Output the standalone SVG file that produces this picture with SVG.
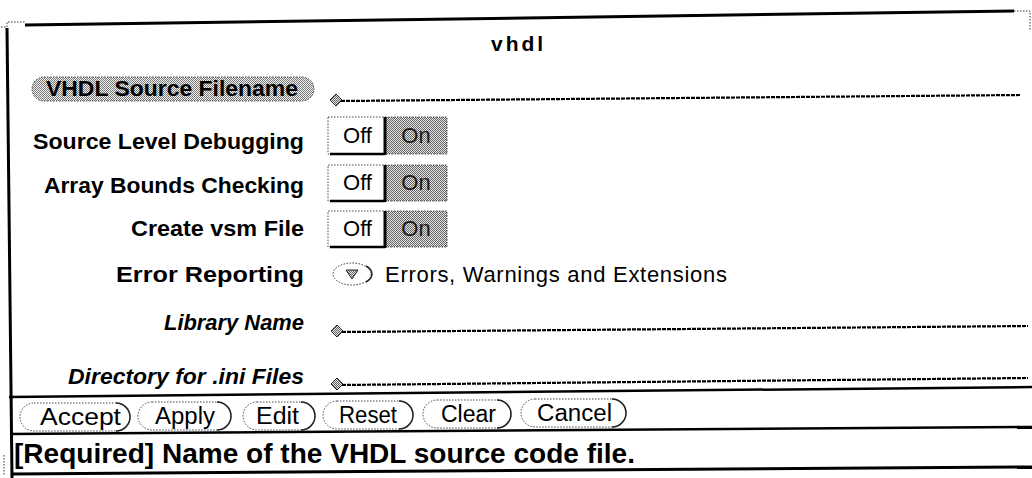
<svg xmlns="http://www.w3.org/2000/svg" width="1032" height="478" viewBox="0 0 1032 478">
<defs>
<pattern id="dither" width="2" height="2" patternUnits="userSpaceOnUse"><rect width="2" height="2" fill="#f2f2f2"/><rect width="1" height="1" fill="#7a7a7a"/><rect x="1" y="1" width="1" height="1" fill="#7a7a7a"/></pattern>
<pattern id="dither2" width="2" height="2" patternUnits="userSpaceOnUse"><rect width="2" height="2" fill="#e4e4e4"/><rect width="1" height="1" fill="#666"/><rect x="1" y="1" width="1" height="1" fill="#666"/></pattern>
<style>
.lbl{font-family:"Liberation Sans",Arial,sans-serif;font-weight:bold;font-size:22px;fill:#000;text-anchor:end}
.it{font-style:italic}
.reg{font-family:"Liberation Sans",Arial,sans-serif;font-size:22px;fill:#000}
.dot{fill:none;stroke:#333;stroke-width:1;stroke-dasharray:1.5 1.5}
.field{fill:none;stroke:#000;stroke-width:2.2;stroke-dasharray:4 1}
.diam{fill:url(#dither2);stroke:#222;stroke-width:1}
.frame{stroke:#000;stroke-width:3;fill:none}
.sep{stroke:#000;stroke-width:2.5;fill:none}
.btn{fill:#fff;stroke:#444;stroke-width:1;stroke-dasharray:1.5 1.5}
.btnsh{fill:none;stroke:#222;stroke-width:1.5}
.btxt{font-family:"Liberation Sans",Arial,sans-serif;font-size:23px;fill:#000}
.off{fill:#fff;stroke:#444;stroke-width:1;stroke-dasharray:1.5 1.5}
.on{fill:url(#dither2);stroke:#444;stroke-width:1;stroke-dasharray:1.5 1.5}
.solid{stroke:#000;stroke-width:2.5;fill:none}
.ontxt{fill:#1a1a1a}
</style>
</defs>
<rect width="1032" height="478" fill="#fff"/>
<g id="frame">
  <line class="frame" x1="25" y1="25" x2="1014" y2="11"/>
  <line class="frame" x1="7" y1="28" x2="12" y2="478"/>
  <path class="dot" d="M1,27 H7 V22 H25"/>
  <path class="dot" d="M1014,11 H1030 V30"/>
  <path class="dot" d="M4,455 V476"/>
  <line class="sep" x1="9" y1="397" x2="1032" y2="387"/>
  <line class="sep" x1="10" y1="434" x2="1032" y2="427"/>
  <line class="frame" x1="12" y1="474" x2="1032" y2="467"/>
</g>
<g id="title">
  <text x="491" y="51" font-family="'Liberation Sans',Arial,sans-serif" font-weight="bold" font-size="21" textLength="52">vhdl</text>
</g>
<g id="row-source">
  <rect x="32" y="77" width="282" height="24" rx="12" fill="url(#dither)" stroke="#444" stroke-width="1" stroke-dasharray="1.5 1.5"/>
  <text x="46" y="96" font-family="'Liberation Sans',Arial,sans-serif" font-weight="bold" font-size="22" textLength="252" lengthAdjust="spacingAndGlyphs">VHDL Source Filename</text>
  <polygon class="diam" points="330,100 336,94 342,100 336,106"/>
  <line class="field" x1="341" y1="101" x2="1021" y2="95"/>
</g>
<g id="row-debug">
  <text class="lbl" x="304" y="149" textLength="271" lengthAdjust="spacingAndGlyphs">Source Level Debugging</text>
  <rect class="off" x="328" y="117" width="57" height="37"/>
  <rect class="on" x="385" y="117" width="62" height="37"/>
  <line class="solid" x1="330" y1="154" x2="385" y2="154"/>
  <line class="solid" x1="385" y1="117" x2="385" y2="155" style="stroke-width:3"/>
  <text class="reg" x="357.5" y="143" text-anchor="middle">Off</text>
  <text class="reg ontxt" x="416" y="143" text-anchor="middle">On</text>
</g>
<g id="row-bounds">
  <text class="lbl" x="304" y="193" textLength="260" lengthAdjust="spacingAndGlyphs">Array Bounds Checking</text>
  <rect class="off" x="328" y="165" width="57" height="36"/>
  <rect class="on" x="385" y="165" width="62" height="36"/>
  <line class="solid" x1="330" y1="201" x2="385" y2="201"/>
  <line class="solid" x1="385" y1="165" x2="385" y2="202" style="stroke-width:3"/>
  <text class="reg" x="357.5" y="190" text-anchor="middle">Off</text>
  <text class="reg ontxt" x="416" y="190" text-anchor="middle">On</text>
</g>
<g id="row-vsm">
  <text class="lbl" x="304" y="236" textLength="173" lengthAdjust="spacingAndGlyphs">Create vsm File</text>
  <rect class="off" x="328" y="211" width="57" height="36"/>
  <rect class="on" x="385" y="211" width="62" height="36"/>
  <line class="solid" x1="330" y1="247" x2="385" y2="247"/>
  <line class="solid" x1="385" y1="211" x2="385" y2="248" style="stroke-width:3"/>
  <text class="reg" x="357.5" y="236" text-anchor="middle">Off</text>
  <text class="reg ontxt" x="416" y="236" text-anchor="middle">On</text>
</g>
<g id="row-error">
  <text class="lbl" x="304" y="282" textLength="188" lengthAdjust="spacingAndGlyphs">Error Reporting</text>
  <ellipse cx="352" cy="274" rx="19" ry="11" class="dot"/>
  <path d="M366,266 A19,11 0 0 1 366,282" class="btnsh"/>
  <polygon points="346,270 358,270 352,279" fill="url(#dither2)" stroke="#222" stroke-width="1"/>
  <text class="reg" x="385" y="282" font-size="23" textLength="342">Errors, Warnings and Extensions</text>
</g>
<g id="row-library">
  <text class="lbl it" x="304" y="330" textLength="140" lengthAdjust="spacingAndGlyphs">Library Name</text>
  <polygon class="diam" points="331,331 337,325 343,331 337,337"/>
  <line class="field" x1="342" y1="332" x2="1028" y2="326"/>
</g>
<g id="row-dir">
  <text class="lbl it" x="304" y="384" textLength="236" lengthAdjust="spacingAndGlyphs">Directory for .ini Files</text>
  <polygon class="diam" points="331,384 337,378 343,384 337,390"/>
  <line class="field" x1="342" y1="385" x2="1028" y2="378"/>
</g>
<g id="btn-accept">
  <rect class="btn" x="20" y="403" width="110" height="28" rx="14"/>
  <path class="btnsh" d="M116,431 A14,14 0 0 0 116,403"/>
  <text class="btxt" x="40" y="425" textLength="81" lengthAdjust="spacingAndGlyphs">Accept</text>
</g>
<g id="btn-apply">
  <rect class="btn" x="138" y="402" width="93" height="28" rx="14"/>
  <path class="btnsh" d="M217,430 A14,14 0 0 0 217,402"/>
  <text class="btxt" x="155" y="424" textLength="60" lengthAdjust="spacingAndGlyphs">Apply</text>
</g>
<g id="btn-edit">
  <rect class="btn" x="243" y="402" width="72" height="28" rx="14"/>
  <path class="btnsh" d="M301,430 A14,14 0 0 0 301,402"/>
  <text class="btxt" x="256" y="424" textLength="43" lengthAdjust="spacingAndGlyphs">Edit</text>
</g>
<g id="btn-reset">
  <rect class="btn" x="323" y="401" width="90" height="28" rx="14"/>
  <path class="btnsh" d="M399,429 A14,14 0 0 0 399,401"/>
  <text class="btxt" x="339" y="423" textLength="58" lengthAdjust="spacingAndGlyphs">Reset</text>
</g>
<g id="btn-clear">
  <rect class="btn" x="423" y="400" width="88" height="28" rx="14"/>
  <path class="btnsh" d="M497,428 A14,14 0 0 0 497,400"/>
  <text class="btxt" x="441" y="422" textLength="55" lengthAdjust="spacingAndGlyphs">Clear</text>
</g>
<g id="btn-cancel">
  <rect class="btn" x="521" y="399" width="105" height="28" rx="14"/>
  <path class="btnsh" d="M612,427 A14,14 0 0 0 612,399"/>
  <text class="btxt" x="537" y="421" textLength="75" lengthAdjust="spacingAndGlyphs">Cancel</text>
</g>
<g id="status">
  <text x="14" y="463" font-family="'Liberation Sans',Arial,sans-serif" font-weight="bold" font-size="28" textLength="621" lengthAdjust="spacingAndGlyphs">[Required] Name of the VHDL source code file.</text>
</g>
</svg>
